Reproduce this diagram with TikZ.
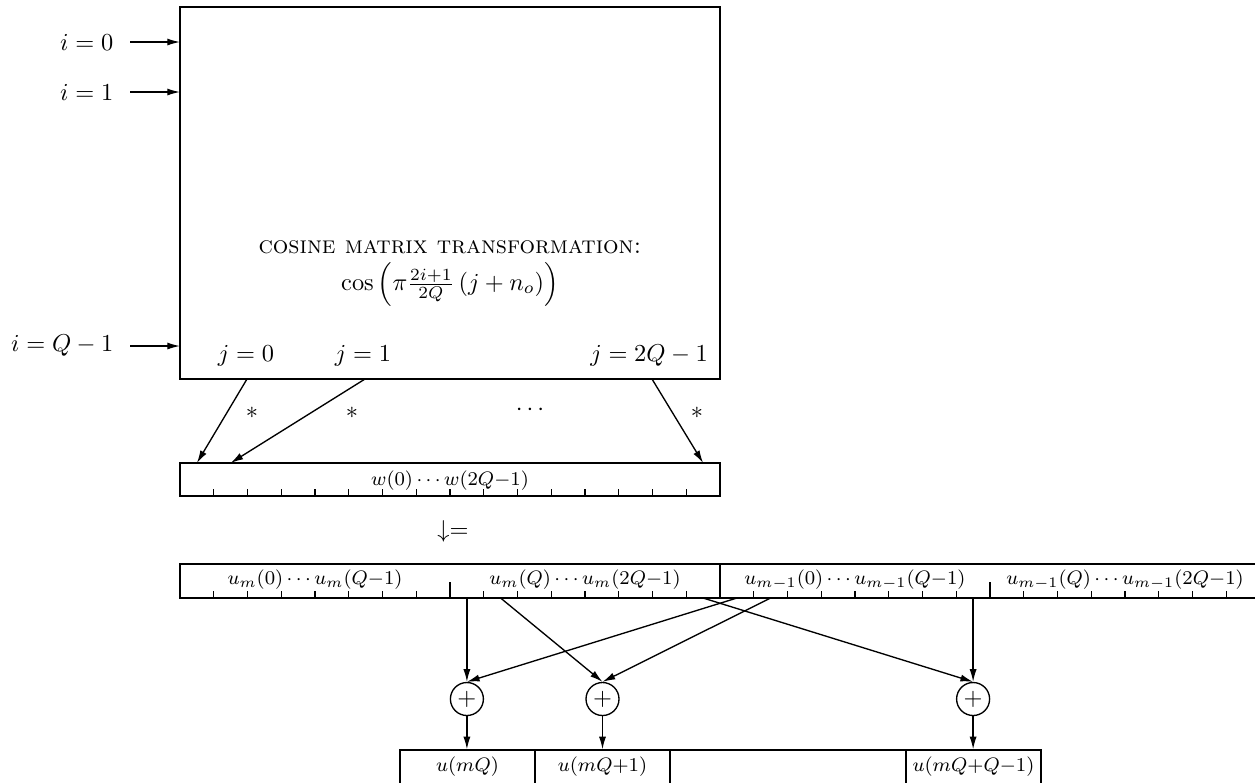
\documentclass[tikz,border=0pt]{standalone}
\usetikzlibrary{arrows.meta}
\begin{document}
\begin{tikzpicture}[x=0.41pt,y=-0.41pt, line width=0.55pt,
  arr/.style={-{Latex[length=5.2pt,width=2.9pt]}},
  rbox/.style 2 args={draw, rectangle, inner sep=0pt, minimum width={#1*0.41pt}, minimum height={#2*0.41pt}},
  lab/.style={inner sep=0pt, font=\footnotesize},
  txt/.style={inner sep=0pt},
  plus/.style={draw, circle, inner sep=0pt, minimum size={33*0.41pt}}]
\useasboundingbox (0,0) rectangle (1255,782);

% main matrix box
\node[rbox={540}{372}] (mat) at (450,193) {};
\node[txt] (title) at (450,247) {\textsc{cosine matrix transformation:}};
\node[txt] (formula) at (450,284) {$\cos\left(\pi\frac{2i+1}{2Q}\left(j+n_o\right)\right)$};

% inputs
\node[txt, anchor=east] (i0) at (114,42) {$i=0$};
\node[txt, anchor=east] (i1) at (114,92) {$i=1$};
\node[txt, anchor=east] (iq) at (114,346) {$i=Q-1$};
\coordinate (i0s) at (130,42); \coordinate (i0e) at (180,42);
\coordinate (i1s) at (130,92); \coordinate (i1e) at (180,92);
\coordinate (iqs) at (130,346); \coordinate (iqe) at (180,346);
\draw[arr] (i0s) -- (i0e);
\draw[arr] (i1s) -- (i1e);
\draw[arr] (iqs) -- (iqe);

% outputs j
\node[txt] (j0) at (246,356) {$j=0$};
\node[txt] (j1) at (363,356) {$j=1$};
\node[txt] (jq) at (649,356) {$j=2Q-1$};
\coordinate (j0s) at (247,379);
\coordinate (j1s) at (365,379);
\coordinate (jqs) at (652,379);

% w buffer
\node[rbox={540}{33}] (wbuf) at (450,479.5) {};
\foreach \k in {1,...,15} \draw ({180+\k*33.75},496) -- ({180+\k*33.75},488.5);
\node[lab] (wlab) at (450,481) {$w(0)\cdots w(2Q{-}1)$};
\coordinate (w0) at (196.9,463);
\coordinate (w1) at (230.6,463);
\coordinate (w15) at (703.1,463);
\draw[arr] (j0s) -- (w0);
\draw[arr] (j1s) -- (w1);
\draw[arr] (jqs) -- (w15);
\node[txt] (s0) at (252,413) {$*$};
\node[txt] (s1) at (352,413) {$*$};
\node[txt] (dots) at (530,410) {$\cdots$};
\node[txt] (sq) at (697,413) {$*$};

% equals
\node[txt] (eq) at (453,531) {$\downarrow=$};

% u buffer
\node[rbox={1080}{34}] (ubuf) at (720,581) {};
\foreach \k in {1,...,7,9,10,...,15,17,18,...,23,25,26,...,31}
  \draw ({180+\k*33.75},598) -- ({180+\k*33.75},590.5);
\foreach \k in {8,24}
  \draw ({180+\k*33.75},598) -- ({180+\k*33.75},582);
\draw (720,564) -- (720,598);
\node[lab] (ua) at (315,580) {$u_m(0)\cdots u_m(Q{-}1)$};
\node[lab] (ub) at (585,580) {$u_m(Q)\cdots u_m(2Q{-}1)$};
\node[lab] (uc) at (855,580) {$u_{m-1}(0)\cdots u_{m-1}(Q{-}1)$};
\node[lab] (ud) at (1125,580) {$u_{m-1}(Q)\cdots u_{m-1}(2Q{-}1)$};
\coordinate (c8) at (466.9,598);
\coordinate (c9) at (500.6,598);
\coordinate (c15) at (703.1,598);
\coordinate (c16) at (736.9,598);
\coordinate (c17) at (770.6,598);
\coordinate (c23) at (973.1,598);

% adders
\node[plus] (p1) at (466.9,699) {$+$};
\node[plus] (p2) at (602.5,699) {$+$};
\node[plus] (p3) at (973.1,699) {$+$};
\draw[arr] (c8) -- (p1.north);
\draw[arr] (c16) -- (p1.north);
\draw[arr] (c9) -- (p2.north);
\draw[arr] (c17) -- (p2.north);
\draw[arr] (c15) -- (p3.north);
\draw[arr] (c23) -- (p3.north);

% output buffer
\node[rbox={135}{34}] (o1) at (467.5,767) {};
\node[rbox={135}{34}] (o2) at (602.5,767) {};
\node[rbox={236}{34}] (o3) at (788,767) {};
\node[rbox={135}{34}] (o4) at (973.5,767) {};
\node[lab] (o1l) at (467.5,767) {$u(mQ)$};
\node[lab] (o2l) at (602.5,767) {$u(mQ{+}1)$};
\node[lab] (o4l) at (973.5,767) {$u(mQ{+}Q{-}1)$};
\draw[arr] (p1.south) -- (p1.south |- o1.north);
\draw[arr] (p2.south) -- (p2.south |- o2.north);
\draw[arr] (p3.south) -- (p3.south |- o4.north);
\end{tikzpicture}
\end{document}
